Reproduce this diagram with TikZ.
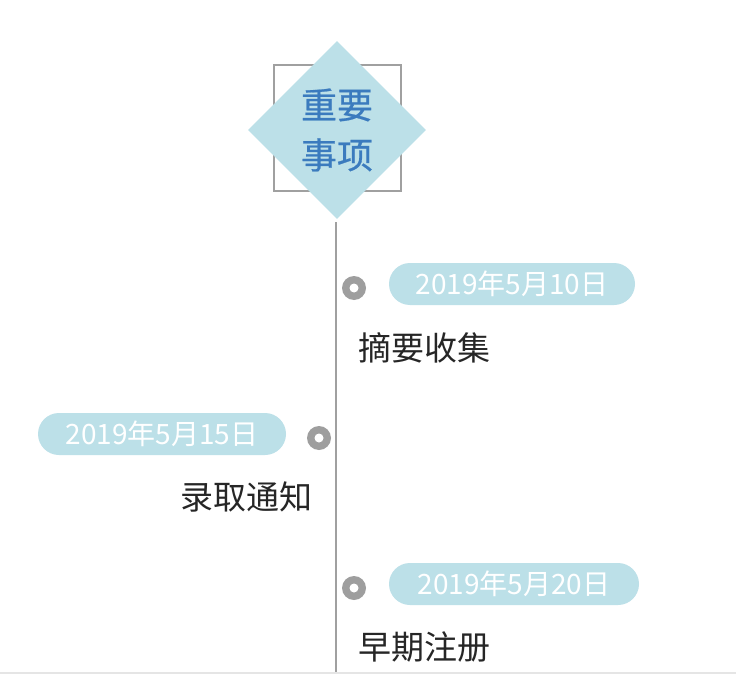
\documentclass[tikz,border=0pt]{standalone}
\usepackage{fontspec}
\usetikzlibrary{shapes.geometric}
\setmainfont{Noto Sans CJK SC}
\newfontfamily\cjk{Noto Sans CJK SC}
\newfontfamily\cjkb[FakeBold=0.6]{Noto Sans CJK SC}
\definecolor{pillblue}{HTML}{BCE0E8}
\definecolor{titleblue}{HTML}{3B7BBE}
\definecolor{linegray}{HTML}{A0A0A0}
\definecolor{dotgray}{HTML}{9E9E9E}
\definecolor{txt}{HTML}{262626}
\begin{document}
\begin{tikzpicture}[x=1pt,y=-1pt,
  pill/.style={fill=pillblue,rounded corners=21pt,minimum height=42pt,inner sep=0pt,text=white,font=\cjk\fontsize{28}{28}\selectfont},
  evtext/.style={text=txt,font=\cjk\fontsize{33}{33}\selectfont,inner sep=0pt},
  dotouter/.style={circle,fill=dotgray,minimum size=24pt,inner sep=0pt},
  dotinner/.style={circle,fill=white,minimum size=9pt,inner sep=0pt}]
\useasboundingbox (0,0) rectangle (736,674);
\fill[white] (0,0) rectangle (736,674);
\fill[black!10] (0,672) rectangle (736,674);
% title
\draw[linegray,line width=1.3pt] (274,65) rectangle (401,191);
\node[diamond,fill=pillblue,minimum width=178pt,minimum height=178pt,inner sep=0pt] (title) at (337,130) {};
\node[text=titleblue,font=\cjkb\fontsize{36}{50}\selectfont,align=center] (tt) at (337,130) {重要\\事项};
\coordinate (lineend) at (336,672);
\draw[linegray,line width=1.5pt] (336,222) -- (lineend);
% event 1
\node[dotouter] (d1) at (354,288) {};
\node[dotinner] at (d1) {};
\node[pill,minimum width=246pt] (p1) at (512,284) {2019年5月10日};
\node[evtext,anchor=west] (e1) at (358,348) {摘要收集};
% event 2
\node[dotouter] (d2) at (319,438) {};
\node[dotinner] at (d2) {};
\node[pill,minimum width=248pt] (p2) at (162,434) {2019年5月15日};
\node[evtext,anchor=east] (e2) at (313,497) {录取通知};
% event 3
\node[dotouter] (d3) at (354,588) {};
\node[dotinner] at (d3) {};
\node[pill,minimum width=250pt] (p3) at (514,584) {2019年5月20日};
\node[evtext,anchor=west] (e3) at (358,647) {早期注册};
\end{tikzpicture}
\end{document}
